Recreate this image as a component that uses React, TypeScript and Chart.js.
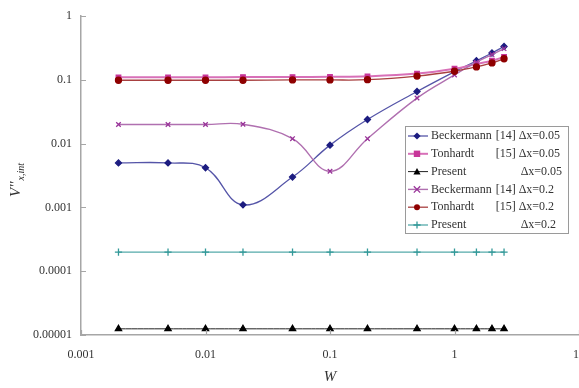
import React, { useEffect, useRef } from "react";
import { Chart, registerables } from "chart.js";

Chart.register(...registerables);

// ---------------- data ----------------
const W = [0.002, 0.005, 0.01, 0.02, 0.05, 0.1, 0.2, 0.5, 1, 1.5, 2, 2.5];
const beckermann005 = [0.005, 0.005, 0.0042, 0.0011, 0.003, 0.0095, 0.024, 0.066, 0.135, 0.2, 0.265, 0.335];
const tonhardt005 = [0.11, 0.11, 0.11, 0.111, 0.111, 0.112, 0.114, 0.126, 0.15, 0.178, 0.2, 0.23];
const present005 = [0.0000125, 0.0000125, 0.0000125, 0.0000125, 0.0000125, 0.0000125, 0.0000125, 0.0000125, 0.0000125, 0.0000125, 0.0000125, 0.0000125];
const beckermann02 = [0.02, 0.02, 0.02, 0.0202, 0.012, 0.0037, 0.012, 0.052, 0.12, 0.19, 0.25, 0.31];
const tonhardt02 = [0.099, 0.099, 0.099, 0.099, 0.1, 0.1, 0.101, 0.115, 0.137, 0.16, 0.185, 0.215];
const present02 = [0.0002, 0.0002, 0.0002, 0.0002, 0.0002, 0.0002, 0.0002, 0.0002, 0.0002, 0.0002, 0.0002, 0.0002];

const xTickValues = [0.001, 0.01, 0.1, 1, 10];
const xTickLabels = ["0.001", "0.01", "0.1", "1", "10"];
const yTickValues = [0.00001, 0.0001, 0.001, 0.01, 0.1, 1];
const yTickLabels = ["0.00001", "0.0001", "0.001", "0.01", "0.1", "1"];

const legendNames = ["Beckermann", "Tonhardt", "Present", "Beckermann", "Tonhardt", "Present"];
const legendRefs = ["[14]", "[15]", "", "[14]", "[15]", ""];
const legendDx = ["Δx=0.05", "Δx=0.05", "Δx=0.05", "Δx=0.2", "Δx=0.2", "Δx=0.2"];

const xTitle = "W";
const yTitleMain = "V''";
const yTitleSub = "x,int";

// ---------------- styles ----------------
const SERIES = [beckermann005, tonhardt005, present005, beckermann02, tonhardt02, present02];
const STYLES = [
  { color: "#1c1c80", line: "#5555a8", point: "rectRot", r: 3, lw: 1.3 },
  { color: "#c8369a", line: "#d870b8", point: "rect", r: 3.2, lw: 2 },
  { color: "#000000", line: "#222222", point: "triangle", r: 3.6, lw: 1 },
  { color: "#993399", line: "#b070b0", point: "crossRot", r: 3.2, lw: 1.4 },
  { color: "#8f0000", line: "#a84040", point: "circle", r: 3, lw: 1.3 },
  { color: "#339999", line: "#55aaaa", point: "cross", r: 3.6, lw: 1.3 },
];

const SERIF = "'Liberation Serif', 'Times New Roman', serif";
const AXIS_GRAY = "#a6a6a6";

function drawMarker(ctx: CanvasRenderingContext2D, style: string, x: number, y: number, r: number, color: string) {
  ctx.save();
  ctx.fillStyle = color;
  ctx.strokeStyle = color;
  ctx.lineWidth = 1.3;
  ctx.beginPath();
  if (style === "rectRot") {
    ctx.moveTo(x, y - r * 1.2);
    ctx.lineTo(x + r * 1.2, y);
    ctx.lineTo(x, y + r * 1.2);
    ctx.lineTo(x - r * 1.2, y);
    ctx.closePath();
    ctx.fill();
  } else if (style === "rect") {
    ctx.rect(x - r, y - r, 2 * r, 2 * r);
    ctx.fill();
  } else if (style === "triangle") {
    ctx.moveTo(x, y - r);
    ctx.lineTo(x + r, y + r * 0.8);
    ctx.lineTo(x - r, y + r * 0.8);
    ctx.closePath();
    ctx.fill();
  } else if (style === "circle") {
    ctx.arc(x, y, r, 0, Math.PI * 2);
    ctx.fill();
  } else if (style === "crossRot") {
    ctx.moveTo(x - r, y - r);
    ctx.lineTo(x + r, y + r);
    ctx.moveTo(x + r, y - r);
    ctx.lineTo(x - r, y + r);
    ctx.stroke();
  } else if (style === "cross") {
    ctx.moveTo(x - r, y);
    ctx.lineTo(x + r, y);
    ctx.moveTo(x, y - r);
    ctx.lineTo(x, y + r);
    ctx.stroke();
  }
  ctx.restore();
}

const extrasPlugin = {
  id: "extras",
  afterDraw(chart: any) {
    const ctx: CanvasRenderingContext2D = chart.ctx;
    const area = chart.chartArea;
    const xs = chart.scales.x;
    const ys = chart.scales.y;

    // inside ticks
    ctx.save();
    ctx.strokeStyle = AXIS_GRAY;
    ctx.lineWidth = 1.2;
    ctx.beginPath();
    xTickValues.forEach((v) => {
      const px = Math.round(xs.getPixelForValue(v)) + 0.5;
      ctx.moveTo(px, area.bottom);
      ctx.lineTo(px, area.bottom - 5);
    });
    yTickValues.forEach((v) => {
      const py = Math.round(ys.getPixelForValue(v)) + 0.5;
      ctx.moveTo(area.left, py);
      ctx.lineTo(area.left + 5, py);
    });
    ctx.stroke();
    ctx.restore();

    // y axis title
    ctx.save();
    ctx.translate(20, 197);
    ctx.rotate(-Math.PI / 2);
    ctx.fillStyle = "#333";
    ctx.textBaseline = "alphabetic";
    ctx.textAlign = "left";
    ctx.font = `italic 15px ${SERIF}`;
    ctx.fillText(yTitleMain, 0, 0);
    const w = ctx.measureText(yTitleMain).width;
    ctx.font = `italic 10px ${SERIF}`;
    ctx.fillText(yTitleSub, w + 1, 4);
    ctx.restore();

    // legend
    const lx = 405, ly = 126, lw = 163, lh = 107;
    ctx.save();
    ctx.fillStyle = "#ffffff";
    ctx.fillRect(lx, ly, lw, lh);
    ctx.strokeStyle = "#9a9a9a";
    ctx.lineWidth = 1;
    ctx.strokeRect(lx + 0.5, ly + 0.5, lw, lh);
    ctx.font = `12px ${SERIF}`;
    ctx.textBaseline = "middle";
    ctx.textAlign = "left";
    const nameX = lx + 26;
    const refX = nameX + ctx.measureText(legendNames[0] + " ").width;
    const dxX = refX + ctx.measureText(legendRefs[0] + " ").width;
    legendNames.forEach((name, i) => {
      const st = STYLES[i];
      const y = ly + 10 + i * 17.8;
      ctx.strokeStyle = st.line;
      ctx.lineWidth = st.lw;
      ctx.beginPath();
      ctx.moveTo(lx + 3, y);
      ctx.lineTo(lx + 23, y);
      ctx.stroke();
      drawMarker(ctx, st.point, lx + 12, y, st.r, st.color);
      ctx.fillStyle = "#333";
      ctx.fillText(name, nameX, y);
      if (legendRefs[i]) ctx.fillText(legendRefs[i], refX + 1, y);
      ctx.fillText(legendDx[i], legendRefs[i] ? dxX + 1 : dxX + 3, y);
    });
    ctx.restore();
  },
};

export default function App() {
  const canvasRef = useRef<HTMLCanvasElement | null>(null);

  useEffect(() => {
    const canvas = canvasRef.current;
    if (!canvas) return;
    const datasets = SERIES.map((data, i) => ({
      label: `${legendNames[i]} ${legendRefs[i]} ${legendDx[i]}`,
      data: W.map((w, j) => ({ x: w, y: data[j] })),
      borderColor: STYLES[i].line,
      borderWidth: STYLES[i].lw,
      backgroundColor: STYLES[i].color,
      pointBackgroundColor: STYLES[i].color,
      pointBorderColor: STYLES[i].color,
      pointBorderWidth: 1.3,
      pointStyle: STYLES[i].point,
      pointRadius: STYLES[i].r,
      tension: 0.4,
      order: SERIES.length - i,
      fill: false,
    }));

    const chart = new Chart(canvas, {
      type: "line",
      data: { datasets },
      options: {
        animation: false,
        responsive: false,
        devicePixelRatio: 1,
        layout: { padding: { left: 0, top: 11, right: 21, bottom: 0 } },
        plugins: { legend: { display: false }, tooltip: { enabled: false } },
        scales: {
          x: {
            type: "logarithmic",
            min: 0.001,
            max: 10,
            afterBuildTicks: (scale: any) => {
              scale.ticks = xTickValues.map((v) => ({ value: v }));
            },
            afterFit: (scale: any) => {
              scale.height = 53;
            },
            grid: { display: true, drawOnChartArea: false, drawTicks: false },
            border: { display: true, color: AXIS_GRAY, width: 1.5 },
            ticks: {
              autoSkip: false,
              maxRotation: 0,
              padding: 13,
              color: "#333",
              font: { family: SERIF, size: 12 },
              callback: (_v: any, i: number) => xTickLabels[i],
            },
            title: {
              display: true,
              text: xTitle,
              color: "#333",
              font: { family: SERIF, size: 15, style: "italic" },
              padding: { top: 0, bottom: 2 },
            },
          },
          y: {
            type: "logarithmic",
            min: 0.00001,
            max: 1,
            afterBuildTicks: (scale: any) => {
              scale.ticks = yTickValues.map((v) => ({ value: v }));
            },
            afterFit: (scale: any) => {
              scale.width = 81;
            },
            grid: { display: true, drawOnChartArea: false, drawTicks: false },
            border: { display: true, color: AXIS_GRAY, width: 1.5 },
            ticks: {
              autoSkip: false,
              padding: 9,
              color: "#333",
              font: { family: SERIF, size: 12 },
              callback: (_v: any, i: number) => yTickLabels[i],
            },
          },
        },
      },
      plugins: [extrasPlugin],
    });
    return () => chart.destroy();
  }, []);

  return (
    <div style={{ position: "fixed", left: 0, top: 0, width: 579, height: 388, overflow: "hidden", background: "#fff" }}>
      <canvas ref={canvasRef} width={600} height={388} style={{ display: "block", width: 600, height: 388 }} />
    </div>
  );
}
